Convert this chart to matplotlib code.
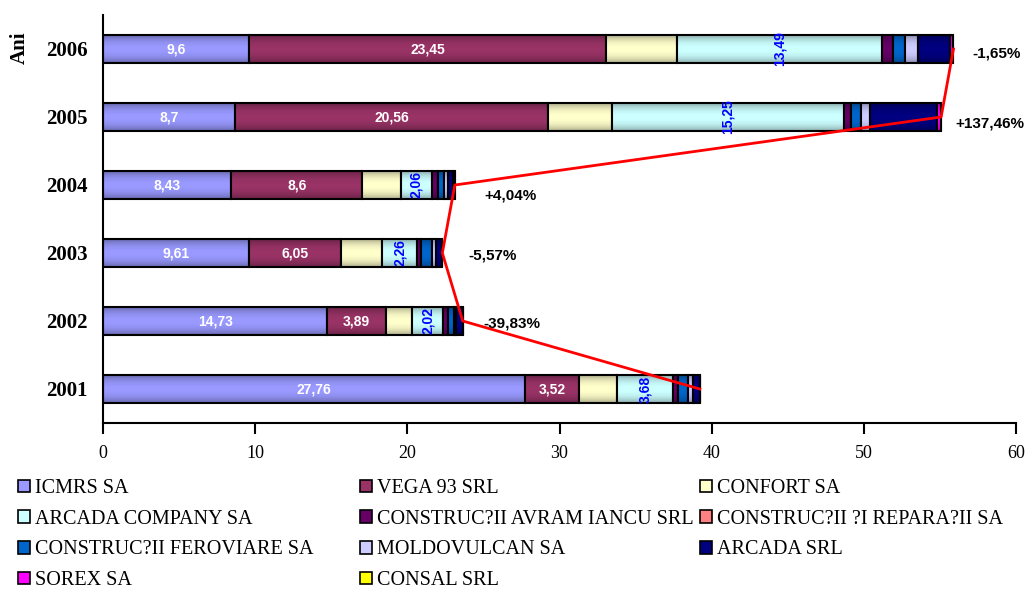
import numpy as np
import matplotlib
matplotlib.use('Agg')
import matplotlib.pyplot as plt
from matplotlib.patches import Patch

# Data
years = ['2001', '2002', '2003', '2004', '2005', '2006']
companies = ['ICMRS SA', 'VEGA 93 SRL', 'CONFORT SA', 'ARCADA COMPANY SA',
             'CONSTRUC?II AVRAM IANCU SRL', 'CONSTRUC?II ?I REPARA?II SA',
             'CONSTRUC?II FEROVIARE SA', 'MOLDOVULCAN SA', 'ARCADA SRL',
             'SOREX SA', 'CONSAL SRL']
icmrs = [27.76, 14.73, 9.61, 8.43, 8.70, 9.60]
vega = [3.52, 3.89, 6.05, 8.60, 20.56, 23.45]
confort = [2.52, 1.70, 2.70, 2.53, 4.17, 4.65]
arcada_company = [3.68, 2.02, 2.26, 2.06, 15.25, 13.49]
avram_iancu = [0.33, 0.30, 0.28, 0.40, 0.47, 0.75]
reparatii = [0, 0, 0, 0, 0, 0]
feroviare = [0.66, 0.45, 0.70, 0.38, 0.67, 0.75]
moldovulcan = [0.30, 0.10, 0.30, 0.25, 0.57, 0.85]
arcada_srl = [0.45, 0.45, 0.40, 0.35, 4.45, 2.15]
sorex = [0, 0, 0, 0.12, 0.24, 0.20]
consal = [0, 0, 0, 0, 0, 0]
growth = ['', '-39,83%', '-5,57%', '+4,04%', '+137,46%', '-1,65%']

series = [icmrs, vega, confort, arcada_company, avram_iancu, reparatii,
          feroviare, moldovulcan, arcada_srl, sorex, consal]
colors = ['#9999FF', '#993366', '#FFFFCC', '#CCFFFF', '#660066', '#FF8080',
          '#0066CC', '#CCCCFF', '#000080', '#FF00FF', '#FFFF00']

# where the growth labels sit (x in data units, y offset from bar centre)
growth_pos = [(0, 0), (26.9, -0.03), (25.6, -0.04), (26.8, -0.16),
              (58.3, -0.10), (58.75, -0.07)]

fig = plt.figure(figsize=(10.26, 5.89), dpi=100)
ax = fig.add_axes([103 / 1026, 1 - 423 / 589, 913 / 1026, 408 / 589])

bar_h = 0.41
y = np.arange(len(years))
left = np.zeros(len(years))
for vals, col in zip(series, colors):
    ax.barh(y, vals, left=left, height=bar_h, color=col,
            edgecolor='black', linewidth=1.5, zorder=2)
    left += np.array(vals)
totals = left.copy()

# soft shading on the bars, darker at top and bottom
g = np.linspace(-1, 1, 60)
shade = np.zeros((60, 1, 4))
shade[:, 0, 3] = 0.32 * np.abs(g) ** 2.2
for i in range(len(years)):
    ax.imshow(shade, extent=(0, totals[i], y[i] - bar_h / 2, y[i] + bar_h / 2),
              aspect='auto', interpolation='bilinear', zorder=3)

# value labels
for i in range(len(years)):
    ax.text(icmrs[i] / 2, y[i], f'{icmrs[i]:g}'.replace('.', ','),
            color='white', fontsize=10, fontweight='bold',
            family='Liberation Sans', ha='center', va='center', zorder=4)
    ax.text(icmrs[i] + vega[i] / 2, y[i], f'{vega[i]:g}'.replace('.', ','),
            color='white', fontsize=10, fontweight='bold',
            family='Liberation Sans', ha='center', va='center', zorder=4)
    xc = icmrs[i] + vega[i] + confort[i] + arcada_company[i] / 2
    ax.text(xc, y[i], f'{arcada_company[i]:.2f}'.replace('.', ','),
            color='#0000FF', fontsize=10, fontweight='bold', rotation=90,
            family='Liberation Sans', ha='center', va='center', zorder=4)

# total trend line
ax.plot(totals, y, color='red', linewidth=2, zorder=5)

for i in range(1, len(years)):
    gx, gy = growth_pos[i]
    ax.text(gx, y[i] + gy, growth[i], fontsize=11, fontweight='bold',
            family='Liberation Sans', ha='center', va='center', zorder=6)

ax.set_xlim(0, 60)
ax.set_ylim(-0.5, 5.5)
ax.set_xticks(range(0, 61, 10))
ax.set_yticks(y)
ax.set_yticklabels(years, fontsize=15, fontweight='bold', family='Liberation Serif')
for lab in ax.get_xticklabels():
    lab.set_family('Liberation Serif')
    lab.set_fontsize(13)
ax.tick_params(axis='x', length=8, width=1.5, pad=8)
ax.tick_params(axis='y', length=0, pad=11)
for s in ['top', 'right']:
    ax.spines[s].set_visible(False)
for s in ['left', 'bottom']:
    ax.spines[s].set_linewidth(1.5)

fig.text(20 / 1026, 1 - 48 / 589, 'Ani', rotation=90, fontsize=15,
         fontweight='bold', family='Liberation Serif', ha='center', va='center')

# legend in three columns
handles = [Patch(facecolor=c, edgecolor='black', linewidth=1.2) for c in colors]
col_x = [18 / 1026, 360 / 1026, 700 / 1026]
for k in range(3):
    idx = list(range(k, len(companies), 3))
    fig.legend([handles[j] for j in idx], [companies[j] for j in idx],
               loc='upper left', bbox_to_anchor=(col_x[k], 1 - 479 / 589),
               frameon=False, ncol=1, borderpad=0, borderaxespad=0,
               handlelength=0.6, handleheight=0.6, handletextpad=0.25,
               labelspacing=0.58,
               prop={'family': 'Liberation Serif', 'size': 14.5})

fig.savefig('out.png', dpi=100)
